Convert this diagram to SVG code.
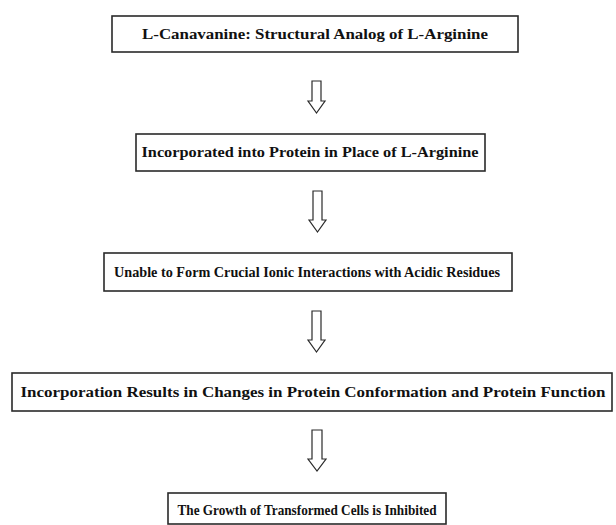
<svg xmlns="http://www.w3.org/2000/svg" width="616" height="525" viewBox="0 0 616 525">
<defs>
<style>
.box{fill:#fff;stroke:#2a2a2a;stroke-width:1.6}
.t{font-family:"Liberation Serif","Times New Roman",serif;font-weight:bold;font-size:14.5px;fill:#111;text-anchor:middle}
.arr{fill:#fff;stroke:#2a2a2a;stroke-width:1.2;stroke-linejoin:miter}
</style>
</defs>
<rect width="616" height="525" fill="#fff"/>
<g id="n1"><rect class="box" x="112" y="16" width="406" height="36"/><text class="t" x="315" y="38.5" textLength="346" lengthAdjust="spacingAndGlyphs">L-Canavanine: Structural Analog of L-Arginine</text></g>
<g id="n2"><rect class="box" x="136" y="134" width="349" height="37"/><text class="t" x="310" y="157" textLength="337" lengthAdjust="spacingAndGlyphs">Incorporated into Protein in Place of L-Arginine</text></g>
<g id="n3"><rect class="box" x="104" y="253" width="408" height="38"/><text class="t" x="307" y="276.5" textLength="386" lengthAdjust="spacingAndGlyphs">Unable to Form Crucial Ionic Interactions with Acidic Residues</text></g>
<g id="n4"><rect class="box" x="12" y="373" width="600" height="38"/><text class="t" x="313" y="396.5" textLength="585" lengthAdjust="spacingAndGlyphs">Incorporation Results in Changes in Protein Conformation and Protein Function</text></g>
<g id="n5"><rect class="box" x="168" y="493" width="278" height="31"/><text class="t" x="307" y="515" textLength="259" lengthAdjust="spacingAndGlyphs">The Growth of Transformed Cells is Inhibited</text></g>
<g id="connectors">
<path class="arr" d="M312,81 H321 V101 H325 L316.5,113 L308,101 H312 Z"/>
<path class="arr" d="M313,191 H322 V220 H326 L317.5,232 L309,220 H313 Z"/>
<path class="arr" d="M312,311 H321 V340 H325 L316.5,352 L308,340 H312 Z"/>
<path class="arr" d="M312,430 H322 V459 H326 L317,471 L308,459 H312 Z"/>
</g>
</svg>
